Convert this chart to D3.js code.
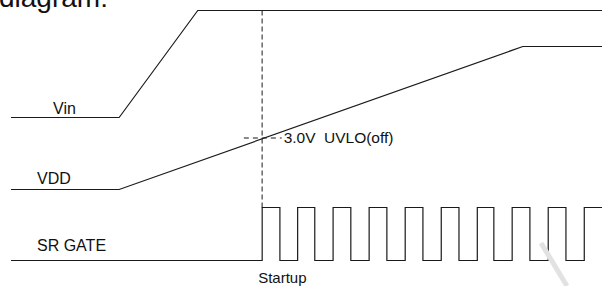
<!DOCTYPE html>
<html>
<head>
<meta charset="utf-8">
<script src="https://cdn.jsdelivr.net/npm/d3@7"></script>
<style>
  html, body { margin: 0; padding: 0; background: #fff; }
  svg { display: block; font-family: 'Liberation Sans', Arial, sans-serif; }
</style>
</head>
<body>
<div class="timing-chart"></div>
<script>
const width = 602;
const height = 286;

// time axis runs 0..100, levels are 0 (low) .. 1 (high)
const vinPoints = [[0, 0], [18.3, 0], [31.6, 1], [100, 1]];
const vddPoints = [[0, 0], [18.3, 0], [86.6, 1], [100, 1]];
const gateEdges = [42.5, 45.5, 48.5, 51.4, 54.5, 57.5, 60.6, 63.6, 66.7, 69.7,
  72.8, 75.8, 78.9, 81.7, 84.8, 87.8, 90.9, 93.9, 97.0];
const startupTime = 42.5;
const uvloLevel = 0.36;
const uvloSpan = [39.4, 45.8];
const signalNames = ['Vin', 'VDD', 'SR GATE'];

const svg = d3
  .select('.timing-chart')
  .append('svg')
  .attr('width', width)
  .attr('height', height);

const xScale = d3.scaleLinear().domain([0, 100]).range([11, 602]);

// each signal gets its own low/high rows
const yVin = d3.scaleLinear().domain([0, 1]).range([117.5, 10.5]);
const yVdd = d3.scaleLinear().domain([0, 1]).range([189.5, 46.5]);
const yGate = d3.scaleLinear().domain([0, 1]).range([260.5, 207.5]);

// gate edges -> step points
const gatePoints = [[0, 0]];
gateEdges.forEach((t, i) => gatePoints.push([t, i % 2 === 0 ? 1 : 0]));
gatePoints.push([100, gatePoints[gatePoints.length - 1][1]]);

const lineFor = (yScale) => d3.line().x((d) => xScale(d[0])).y((d) => yScale(d[1]));

// title remnant at top
svg
  .append('text')
  .attr('x', -1)
  .attr('y', 7)
  .style('font-size', '28px')
  .style('fill', '#111')
  .text('diagram:');

// startup marker
svg
  .append('line')
  .attr('x1', xScale(startupTime))
  .attr('x2', xScale(startupTime))
  .attr('y1', yVin(1))
  .attr('y2', yGate(1))
  .attr('stroke', '#666')
  .attr('stroke-width', 1.5)
  .attr('stroke-dasharray', '5,3');

svg
  .append('line')
  .attr('x1', xScale(uvloSpan[0]))
  .attr('x2', xScale(uvloSpan[1]))
  .attr('y1', yVdd(uvloLevel))
  .attr('y2', yVdd(uvloLevel))
  .attr('stroke', '#666')
  .attr('stroke-width', 1.3)
  .attr('stroke-dasharray', '5,4');

const waves = [
  { pts: vinPoints, y: yVin, curve: d3.curveLinear },
  { pts: vddPoints, y: yVdd, curve: d3.curveLinear },
  { pts: gatePoints, y: yGate, curve: d3.curveStepAfter },
];

waves.forEach((w) => {
  svg
    .append('path')
    .attr('d', lineFor(w.y).curve(w.curve)(w.pts))
    .attr('fill', 'none')
    .attr('stroke', '#1a1a1a')
    .attr('stroke-width', 1.2);
});

// labels
const labelPos = [
  { x: 53, y: yVin(0) - 4 },
  { x: 37, y: yVdd(0) - 5.5 },
  { x: 37, y: yGate(0) - 10 },
];
signalNames.forEach((name, i) => {
  svg
    .append('text')
    .attr('x', labelPos[i].x)
    .attr('y', labelPos[i].y)
    .style('font-size', '16px')
    .style('fill', '#111')
    .text(name);
});

svg
  .append('text')
  .attr('x', xScale(uvloSpan[1]) + 2)
  .attr('y', yVdd(uvloLevel) + 5)
  .style('font-size', '15.5px')
  .style('fill', '#111')
  .text('3.0V');
svg
  .append('text')
  .attr('x', 324)
  .attr('y', yVdd(uvloLevel) + 5)
  .style('font-size', '15.5px')
  .style('fill', '#111')
  .text('UVLO(off)');

svg
  .append('text')
  .attr('x', xScale(startupTime) - 4)
  .attr('y', 283)
  .style('font-size', '15px')
  .style('fill', '#111')
  .text('Startup');

// faint watermark stroke in the corner
svg
  .append('line')
  .attr('x1', 541)
  .attr('y1', 243)
  .attr('x2', 567)
  .attr('y2', 286)
  .attr('stroke', '#e2e2e2')
  .attr('stroke-width', 5);
</script>
</body>
</html>
